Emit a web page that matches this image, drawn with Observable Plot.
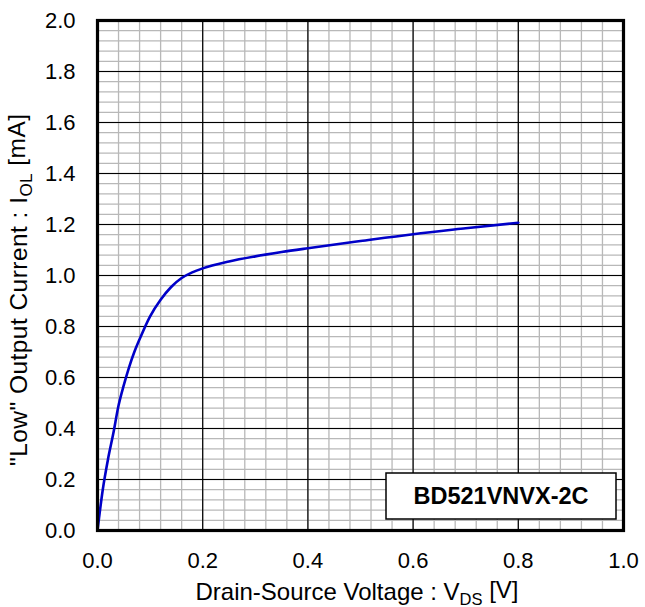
<!DOCTYPE html>
<html>
<head>
<meta charset="utf-8">
<script src="https://cdn.jsdelivr.net/npm/d3@7"></script>
<script src="https://cdn.jsdelivr.net/npm/@observablehq/plot@0.6"></script>
<style>
  html, body { margin: 0; padding: 0; background: #fff; }
  #chart svg { display: block; }
</style>
</head>
<body>
<div id="chart"></div>
<script>
// Curve: V_DS [V] vs I_OL [mA]
const vds = [0, 0.01, 0.02, 0.03, 0.04, 0.05, 0.06, 0.07, 0.08, 0.10, 0.12, 0.14, 0.16, 0.18, 0.20, 0.25, 0.30, 0.35, 0.40, 0.50, 0.60, 0.70, 0.80];
const iol = [0, 0.16, 0.28, 0.38, 0.49, 0.57, 0.64, 0.70, 0.75, 0.84, 0.905, 0.955, 0.99, 1.012, 1.028, 1.055, 1.075, 1.092, 1.107, 1.135, 1.162, 1.185, 1.207];

const xTicks = [0, 0.2, 0.4, 0.6, 0.8, 1.0];
const yTicks = [0, 0.2, 0.4, 0.6, 0.8, 1.0, 1.2, 1.4, 1.6, 1.8, 2.0];
const xMinor = d3.range(0, 1.0001, 0.04);
const yMinor = d3.range(0, 2.0001, 0.04);

const seriesName = "BD521VNVX-2C";
const xTitle = ["Drain-Source Voltage : V", "DS", " [V]"];
const yTitle = ["\"Low\" Output Current : I", "OL", " [mA]"];

const data = vds.map((v, i) => ({v, i: iol[i]}));

const W = 645, H = 607;
const ml = 97, mr = 22, mt = 20, mb = 77;
const FONT = "'Liberation Sans', Arial, sans-serif";

const chart = Plot.plot({
  width: W,
  height: H,
  marginLeft: ml,
  marginRight: mr,
  marginTop: mt,
  marginBottom: mb,
  style: {fontFamily: FONT, fontSize: "22px", color: "#000", background: "#fff"},
  x: {domain: [0, 1], ticks: xTicks, tickFormat: d3.format(".1f"), tickSize: 0, tickPadding: 22, label: null},
  y: {domain: [0, 2], ticks: yTicks, tickFormat: d3.format(".1f"), tickSize: 0, tickPadding: 22, label: null},
  marks: [
    Plot.ruleX(xMinor, {stroke: "#b8b8b8", strokeWidth: 1.3}),
    Plot.ruleY(yMinor, {stroke: "#b8b8b8", strokeWidth: 1.3}),
    Plot.ruleX(xTicks, {stroke: "#000", strokeWidth: 1.2}),
    Plot.ruleY(yTicks, {stroke: "#000", strokeWidth: 1.2}),
    Plot.line(data, {x: "v", y: "i", stroke: "#0000c8", strokeWidth: 2.6, curve: "monotone-x"}),
    Plot.frame({stroke: "#000", strokeWidth: 3.2})
  ]
});

const svg = d3.select(chart);
svg.selectAll("text").attr("fill", "#000");

// Series label box (bottom-right of the plot)
const bx = 386, by = 473, bw = 230, bh = 46;
const g = svg.append("g");
g.append("rect").attr("x", bx).attr("y", by).attr("width", bw).attr("height", bh)
  .attr("fill", "#fff").attr("stroke", "#000").attr("stroke-width", 1.5);
g.append("text").attr("x", bx + bw / 2).attr("y", by + bh / 2).attr("dy", "0.36em")
  .attr("text-anchor", "middle").attr("font-weight", "bold").attr("font-size", 23.5)
  .attr("fill", "#000").attr("font-family", FONT).text(seriesName);

// Axis titles with subscripts
function title(sel, parts, sub) {
  sel.append("tspan").text(parts[0]);
  sel.append("tspan").attr("font-size", sub).attr("dy", "0.3em").text(parts[1]);
  sel.append("tspan").attr("dy", "-0.3em").text(parts[2]);
}
const xt = svg.append("text").attr("x", 357).attr("y", 600)
  .attr("text-anchor", "middle").attr("font-size", 24).attr("fill", "#000")
  .attr("font-family", FONT);
title(xt, xTitle, 16.5);
const yt = svg.append("text").attr("transform", `translate(27,290) rotate(-90)`)
  .attr("text-anchor", "middle").attr("font-size", 24.5).attr("fill", "#000")
  .attr("font-family", FONT).attr("textLength", 352).attr("lengthAdjust", "spacing");
title(yt, yTitle, 17);

document.getElementById("chart").appendChild(chart);
</script>
</body>
</html>
